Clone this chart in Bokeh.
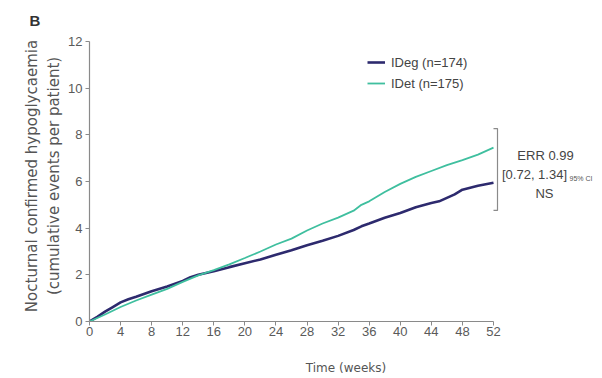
from bokeh.plotting import figure
from bokeh.models import Range1d, FixedTicker, Legend, LegendItem, Title
from bokeh.embed import file_html
from bokeh.resources import INLINE

# ---- data ----
ideg_weeks = [0, 1, 2, 3, 4, 5, 6, 8, 10, 12, 13, 14, 16, 18, 20, 22, 24, 26, 28, 30, 32, 34, 35, 36,
              38, 40, 42, 44, 45, 46, 47, 48, 50, 52]
ideg_vals = [0, 0.2, 0.42, 0.62, 0.82, 0.95, 1.06, 1.3, 1.5, 1.74, 1.9, 2.0, 2.15, 2.33, 2.5, 2.66,
             2.86, 3.05, 3.27, 3.46, 3.67, 3.92, 4.08, 4.2, 4.45, 4.65, 4.9, 5.08, 5.15, 5.3, 5.45,
             5.65, 5.82, 5.95]
idet_weeks = [0, 2, 4, 6, 8, 10, 12, 14, 16, 18, 20, 22, 24, 26, 28, 30, 32, 34, 35, 36, 38, 40,
              42, 44, 46, 48, 50, 52]
idet_vals = [0, 0.3, 0.62, 0.9, 1.15, 1.4, 1.7, 1.98, 2.2, 2.45, 2.72, 3.0, 3.3, 3.55, 3.9, 4.2,
             4.45, 4.75, 5.0, 5.15, 5.55, 5.9, 6.2, 6.45, 6.7, 6.92, 7.15, 7.45]
series_labels = ["IDeg (n=174)", "IDet (n=175)"]
series_colors = ["#2d2a6e", "#3fbf9f"]
x_ticks = list(range(0, 53, 4))
y_ticks = list(range(0, 13, 2))
err_lines = ["ERR 0.99", "[0.72, 1.34]", "NS"]
err_sub = "95% CI"
bracket_low, bracket_high = 4.76, 8.27
panel_letter = "B"

FONT = "Liberation Sans"
WIDE = "DejaVu Sans"
W, H = 602, 378
left, bottom = 89, 57
top = 30            # height of the top border holding the title
px_per_week = 404 / 52
px_per_unit = 280 / 12

p = figure(width=W, height=H, output_backend="svg", toolbar_location=None,
           min_border_left=left, min_border_right=0, min_border_top=top, min_border_bottom=bottom)
p.title = Title(text=panel_letter, align="left", offset=-60, standoff=4, vertical_align="bottom",
                text_font=FONT, text_font_size="15px", text_font_style="bold",
                text_color="#333333")
p.x_range = Range1d(0, (W - left) / px_per_week)
p.y_range = Range1d(0, (H - bottom - top) / px_per_unit)
p.outline_line_color = None
p.grid.visible = False
p.background_fill_color = "white"
p.border_fill_color = "white"

r1 = p.line(ideg_weeks, ideg_vals, line_color=series_colors[0], line_width=2.6)
r2 = p.line(idet_weeks, idet_vals, line_color=series_colors[1], line_width=1.8)

for ax, ticks, b in ((p.xaxis[0], x_ticks, (0, 52)), (p.yaxis[0], y_ticks, (0, 12))):
    ax.ticker = FixedTicker(ticks=ticks)
    ax.bounds = b
    ax.axis_line_color = "#8a8a8a"
    ax.axis_line_width = 1.2
    ax.major_tick_line_color = "#8a8a8a"
    ax.major_tick_in = 0
    ax.major_tick_out = 4
    ax.minor_tick_line_color = None
    ax.major_label_text_font = FONT
    ax.major_label_text_font_size = "13px"
    ax.major_label_text_color = "#5a5a5a"
    ax.axis_label_text_font = WIDE
    ax.axis_label_text_font_style = "normal"
    ax.axis_label_text_color = "#555555"

p.xaxis.axis_label = "Time (weeks)"
p.xaxis.axis_label_text_font_size = "12px"
p.xaxis.major_label_standoff = 1
p.xaxis.axis_label_standoff = 22
p.yaxis.axis_label = "Nocturnal confirmed hypoglycaemia\n(cumulative events per patient)"
p.yaxis.axis_label_text_font_size = "15px"
p.yaxis.major_label_standoff = 3
p.yaxis.axis_label_standoff = 2

legend = Legend(items=[LegendItem(label=series_labels[0], renderers=[r1]),
                       LegendItem(label=series_labels[1], renderers=[r2])],
                location=(278, 228), margin=0, padding=0, border_line_color=None,
                background_fill_alpha=0, glyph_width=18, glyph_height=20, spacing=1,
                label_standoff=6, label_text_font=FONT, label_text_font_size="13px",
                label_text_color="#444444")
p.add_layout(legend)

# bracket at the right end
bx = 52 + 4 / px_per_week
tick = 4 / px_per_week
p.line([bx - tick, bx, bx, bx - tick], [bracket_high, bracket_high, bracket_low, bracket_low],
       line_color="#8a8a8a", line_width=1.2)

ys = [(321 - 155) / px_per_unit, (321 - 174) / px_per_unit, (321 - 193) / px_per_unit]
p.text(x=[52 + 52 / px_per_week, 52 + 41 / px_per_week, 52 + 51 / px_per_week], y=ys, text=err_lines,
       text_font={"value": FONT}, text_font_size="13px", text_color="#444444",
       text_align="center", text_baseline="middle")
p.text(x=[52 + 76 / px_per_week], y=[(321 - 178) / px_per_unit], text=[err_sub],
       text_font={"value": FONT}, text_font_size="7px", text_color="#555555",
       text_align="left", text_baseline="middle")

open("out.html", "w").write(file_html(p, INLINE))
